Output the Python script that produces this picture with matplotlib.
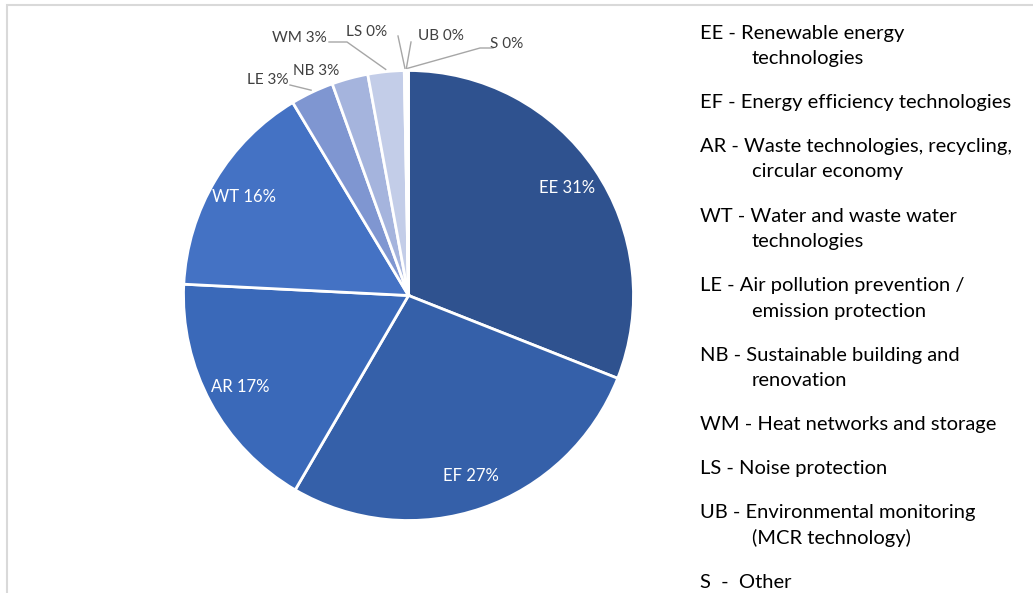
import numpy as np
import matplotlib.pyplot as plt
from matplotlib.patches import Rectangle

plt.rcParams['font.family'] = ['Lato', 'DejaVu Sans']

# shares per technology field (percent)
codes = ['EE', 'EF', 'AR', 'WT', 'LE', 'NB', 'WM', 'LS', 'UB', 'S']
shares = [31.0, 27.4, 17.4, 15.6, 3.1, 2.6, 2.6, 0.1, 0.1, 0.1]
colors = ['#2F528F', '#3560A9', '#3A69B9', '#4472C4', '#7F96D1',
          '#A5B4DD', '#C3CDE8', '#D5DCEF', '#DCE2F1', '#E4E9F5']

legend_lines = [
    ('EE - Renewable energy', 'technologies'),
    ('EF - Energy efficiency technologies',),
    ('AR - Waste technologies, recycling,', 'circular economy'),
    ('WT - Water and waste water', 'technologies'),
    ('LE - Air pollution prevention /', 'emission protection'),
    ('NB - Sustainable building and', 'renovation'),
    ('WM - Heat networks and storage',),
    ('LS - Noise protection',),
    ('UB - Environmental monitoring', '(MCR technology)'),
    ('S  -  Other',),
]

W, H = 1033, 593
fig = plt.figure(figsize=(W / 100, H / 100), dpi=100)
ax = fig.add_axes([0, 0, 1, 1])

cx, cy, R = 408.5, H - 295.5, 225
wedges, _ = ax.pie(shares, colors=colors, startangle=90, counterclock=False,
                   center=(cx, cy), radius=R, frame=True,
                   wedgeprops=dict(edgecolor='white', linewidth=2))

# labels for the big slices sit inside
def mid_angle(w):
    return np.deg2rad((w.theta1 + w.theta2) / 2)

for i in range(4):
    a = mid_angle(wedges[i])
    r = 0.85 * R
    ax.text(cx + r * np.cos(a), cy + r * np.sin(a), f'{codes[i]} {shares[i]:.0f}%',
            ha='center', va='center', color='white', fontsize=12)

# small slices: labels outside with leader lines (text anchor in pixel coords)
outside = {
    'LE': (268, 80, True),
    'NB': (316, 71, False),
    'WM': (299, 38, True),
    'LS': (367, 32, True),
    'UB': (441, 36, True),
    'S': (507, 44, True),
}
elbows = {
    'LE': [(290, 85)],
    'WM': [(329, 42), (347, 42)],
    'LS': [(398, 36)],
    'UB': [(411, 42)],
    'S': [(493, 48), (480, 48)],
}
for i in range(4, len(codes)):
    c = codes[i]
    tx, ty, leader = outside[c]
    ax.text(tx, H - ty, f'{c} {shares[i]:.0f}%', ha='center', va='center',
            color='#404040', fontsize=11)
    if leader:
        a = mid_angle(wedges[i])
        pts = [(x, H - y) for x, y in elbows[c]]
        pts.append((cx + 1.01 * R * np.cos(a), cy + 1.01 * R * np.sin(a)))
        xs, ys = zip(*pts)
        ax.plot(xs, ys, color='#A6A6A6', lw=1)

# legend text on the right
y = 33
for entry in legend_lines:
    ax.text(700, H - y, entry[0], ha='left', va='center', fontsize=14.5, color='black')
    for extra in entry[1:]:
        y += 25.5
        ax.text(752, H - y, extra, ha='left', va='center', fontsize=14.5, color='black')
    y += 44

ax.add_patch(Rectangle((7, -10), W, H - 5 + 10, fill=False, edgecolor='#D9D9D9', lw=1.5))

ax.set_xlim(0, W)
ax.set_ylim(0, H)
ax.set_aspect('equal')
ax.axis('off')

fig.savefig('out.png', dpi=100)
